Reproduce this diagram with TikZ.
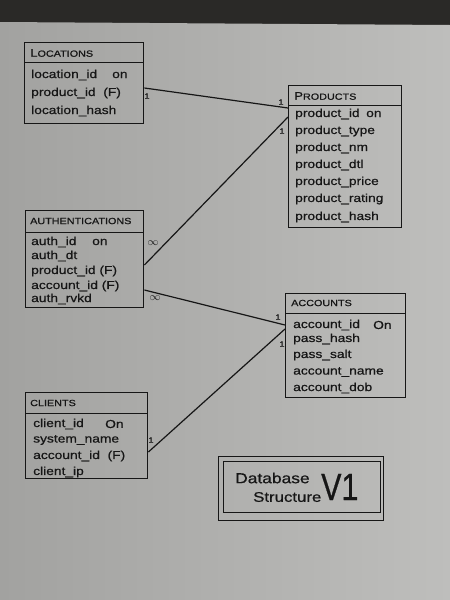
\documentclass[tikz,border=0pt]{standalone}
\usepackage{fontspec}
\setmainfont[FakeStretch=1.2,FakeBold=0.6]{Liberation Sans}
\newfontfamily\vfont[FakeStretch=0.8,FakeBold=0.6]{Liberation Sans}
\definecolor{paperlight}{HTML}{BEBEBC}
\definecolor{paperdark}{HTML}{A2A2A0}
\definecolor{desk}{HTML}{2A2927}
\definecolor{ink}{HTML}{161616}
\tikzset{
  tbl/.style={draw=ink, line width=1.4pt, anchor=north west, inner sep=0pt},
  field/.style={anchor=west, inner sep=0pt, text=ink, font=\fontsize{11.5}{12}\selectfont},
  ttl/.style={anchor=west, inner sep=0pt, text=ink, font=\fontsize{9}{10}\selectfont},
  card/.style={inner sep=0pt, text=ink, font=\fontsize{7.5}{8}\selectfont},
  link/.style={draw=ink, line width=1.2pt},
}
\begin{document}
\begin{tikzpicture}[x=1pt,y=-1pt]
\useasboundingbox (0,0) rectangle (450,600);
% background
\fill[desk] (0,0) rectangle (450,600);
\shade[left color=paperdark, right color=paperlight] (0,22) -- (450,25) -- (450,600) -- (0,600) -- cycle;

% LOCATIONS
\node[tbl, minimum width=119pt, minimum height=20pt] (loch) at (24,42) {};
\node[tbl, minimum width=119pt, minimum height=61pt] (locb) at (24,62) {};
\node[ttl] (loct) at (30,53) {{\fontsize{11}{12}\selectfont L}OCATIONS};
\node[field] (loc1) at (31,75) {location\_id};
\node[field] (loc1k) at (112,75) {on};
\node[field] (loc2) at (31,93) {product\_id\ \ (F)};
\node[field] (loc3) at (31,111) {location\_hash};

% PRODUCTS
\node[tbl, minimum width=113pt, minimum height=20pt] (prh) at (288,85) {};
\node[tbl, minimum width=113pt, minimum height=122pt] (prb) at (288,105) {};
\node[ttl] (prt) at (294,96) {{\fontsize{11}{12}\selectfont P}RODUCTS};
\node[field] (pr1) at (295,114) {product\_id};
\node[field] (pr1k) at (366,114) {on};
\node[field] (pr2) at (295,131) {product\_type};
\node[field] (pr3) at (295,148) {product\_nm};
\node[field] (pr4) at (295,165) {product\_dtl};
\node[field] (pr5) at (295,182) {product\_price};
\node[field] (pr6) at (295,199) {product\_rating};
\node[field] (pr7) at (295,217) {product\_hash};

% AUTHENTICATIONS
\node[tbl, minimum width=118pt, minimum height=22pt] (auh) at (25,210) {};
\node[tbl, minimum width=118pt, minimum height=75pt] (aub) at (25,232) {};
\node[ttl] (aut) at (30,221) {AUTHENTICATIONS};
\node[field] (au1) at (31,242) {auth\_id};
\node[field] (au1k) at (92,242) {on};
\node[field] (au2) at (31,256) {auth\_dt};
\node[field] (au3) at (31,271) {product\_id (F)};
\node[field] (au4) at (31,286) {account\_id (F)};
\node[field] (au5) at (31,299) {auth\_rvkd};

% ACCOUNTS
\node[tbl, minimum width=120pt, minimum height=20pt] (ach) at (285,293) {};
\node[tbl, minimum width=120pt, minimum height=84pt] (acb) at (285,313) {};
\node[ttl] (act) at (291,303) {ACCOUNTS};
\node[field] (ac1) at (293,325) {account\_id};
\node[field] (ac1k) at (373,325) {On};
\node[field] (ac2) at (293,339) {pass\_hash};
\node[field] (ac3) at (293,355) {pass\_salt};
\node[field] (ac4) at (293,372) {account\_name};
\node[field] (ac5) at (293,388) {account\_dob};

% CLIENTS
\node[tbl, minimum width=122pt, minimum height=21pt] (clh) at (25,392) {};
\node[tbl, minimum width=122pt, minimum height=65pt] (clb) at (25,413) {};
\node[ttl] (clt) at (30,403) {CLIENTS};
\node[field] (cl1) at (33,424) {client\_id};
\node[field] (cl1k) at (105,424) {On};
\node[field] (cl2) at (33,440) {system\_name};
\node[field] (cl3) at (33,456) {account\_id\ \ (F)};
\node[field] (cl4) at (33,472) {client\_ip};

% connectors
\draw[link] ([yshift=-26pt]locb.north east) -- ([yshift=-3pt]prb.north west);
\draw[link] ([yshift=-33pt]aub.north east) -- ([yshift=-12pt]prb.north west);
\draw[link] ([yshift=-58pt]aub.north east) -- ([yshift=-12pt]acb.north west);
\draw[link] ([yshift=-39pt]clb.north east) -- ([yshift=-16pt]acb.north west);

% cardinalities
\node[card] (c1) at (147,96) {1};
\node[card] (c2) at (281,102) {1};
\node[card] (c3) at (282,131) {1};
\node[card, font=\fontsize{11}{12}\selectfont] (c4) at (153,243) {$\infty$};
\node[card, font=\fontsize{11}{12}\selectfont] (c5) at (155,298) {$\infty$};
\node[card] (c6) at (278,317) {1};
\node[card] (c7) at (282,344) {1};
\node[card] (c8) at (151,440) {1};

% title box
\node[tbl, minimum width=165pt, minimum height=64pt] (dbo) at (218,456) {};
\node[tbl, minimum width=157pt, minimum height=51pt] (dbi) at (223,461) {};
\node[anchor=west, inner sep=0pt, text=ink, font=\fontsize{14.5}{16}\selectfont] (db1) at (235,478) {Database};
\node[anchor=west, inner sep=0pt, text=ink, font=\fontsize{14}{16}\selectfont] (db2) at (253,497) {Structure};
\node[anchor=west, inner sep=0pt, text=ink, font=\vfont\fontsize{38}{40}\selectfont] (db3) at (321,487) {V1};
\end{tikzpicture}
\end{document}
